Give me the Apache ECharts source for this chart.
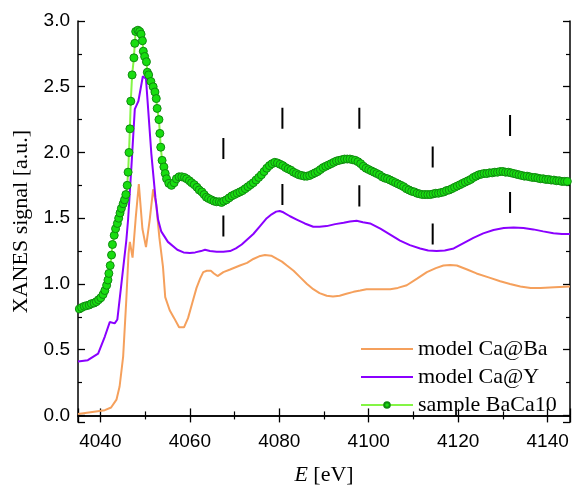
<!DOCTYPE html>
<html>
<head>
<meta charset="utf-8">
<script src="https://cdn.jsdelivr.net/npm/echarts@6/dist/echarts.min.js"></script>
<style>
html,body{margin:0;padding:0;background:#fff;}
#chart{width:573px;height:486px;}
</style>
</head>
<body>
<div id="chart"></div>
<script>
// ---- data ----
var caBaE = [4035,4037,4039,4041,4042.4,4043.6,4044.3,4045.1,4045.8,4046.3,4046.6,4047.2,4047.9,4048.6,4049.4,4050.2,4051.0,4051.8,4052.5,4053.2,4054.0,4054.5,4055.5,4056.5,4057.6,4058.7,4059.6,4060.5,4061.5,4062.3,4063.0,4063.8,4064.7,4065.4,4066.2,4067.5,4069.0,4071.2,4072.8,4074.2,4075.5,4076.8,4078.2,4079.5,4080.6,4081.7,4083.2,4084.7,4086.2,4087.6,4089.0,4090.6,4092.0,4093.5,4095.0,4096.6,4098.1,4099.5,4101.5,4103.0,4104.8,4106.5,4108.5,4110.8,4113.0,4115.0,4116.7,4118.2,4119.7,4122.0,4124.1,4126.8,4129.4,4131.6,4133.9,4136.2,4138.4,4141.5,4145];
var caBaSignal = [0.01,0.02,0.03,0.04,0.06,0.12,0.22,0.45,0.88,1.23,1.32,1.20,1.50,1.76,1.42,1.28,1.48,1.72,1.60,1.35,1.13,0.90,0.80,0.74,0.67,0.67,0.74,0.85,0.97,1.04,1.09,1.10,1.10,1.08,1.06,1.09,1.11,1.14,1.16,1.19,1.21,1.22,1.215,1.19,1.17,1.14,1.10,1.05,1.00,0.96,0.93,0.91,0.905,0.91,0.925,0.94,0.95,0.96,0.96,0.96,0.96,0.97,0.99,1.04,1.09,1.12,1.14,1.145,1.14,1.11,1.08,1.05,1.02,1.00,0.98,0.97,0.97,0.975,0.98];

var caYE = [4035,4037.2,4039.5,4041.0,4042.1,4043.2,4043.8,4044.7,4045.8,4046.2,4046.9,4047.7,4048.5,4049.5,4050.2,4051.4,4052.3,4052.9,4053.6,4055.1,4057.2,4058.6,4060.0,4061.2,4062.5,4063.4,4064.5,4066.0,4067.5,4069.0,4070.3,4071.6,4072.9,4074.2,4075.7,4077.2,4078.3,4079.3,4080.1,4080.9,4082.4,4083.9,4085.7,4087.6,4089.0,4090.6,4092.5,4094.4,4095.8,4097.3,4098.7,4100.3,4102.6,4104.8,4107.0,4109.2,4111.5,4113.3,4115.2,4117.0,4119.0,4121.2,4123.4,4125.6,4127.9,4130.2,4132.4,4134.6,4136.8,4139.0,4141.3,4143.2,4145];
var caYSignal = [0.41,0.42,0.47,0.60,0.71,0.70,0.73,1.00,1.33,1.49,1.87,2.33,2.39,2.58,2.56,1.99,1.66,1.49,1.40,1.32,1.26,1.24,1.235,1.24,1.25,1.26,1.25,1.245,1.245,1.25,1.27,1.30,1.34,1.38,1.44,1.50,1.53,1.55,1.555,1.545,1.515,1.49,1.46,1.435,1.435,1.44,1.455,1.465,1.475,1.48,1.47,1.46,1.42,1.375,1.33,1.295,1.27,1.255,1.25,1.255,1.27,1.31,1.35,1.385,1.41,1.425,1.43,1.425,1.415,1.40,1.385,1.38,1.38];

var sampleE = [4035.3,4035.8,4036.4,4036.9,4037.5,4038.0,4038.6,4039.1,4039.6,4040.1,4040.6,4041.0,4041.4,4041.7,4041.9,4042.2,4042.5,4042.7,4043.1,4043.4,4043.8,4044.1,4044.4,4044.7,4045.1,4045.4,4045.7,4046.0,4046.2,4046.4,4046.6,4046.8,4047.1,4047.5,4047.7,4047.9,4048.4,4048.8,4049.1,4049.4,4049.6,4049.9,4050.3,4050.5,4050.8,4051.3,4051.8,4052.2,4052.5,4052.7,4053.1,4053.3,4053.5,4053.8,4054.2,4054.5,4054.8,4055.3,4055.9,4056.5,4057.0,4057.6,4058.2,4058.8,4059.3,4059.9,4060.4,4061.0,4061.6,4062.1,4062.7,4063.2,4063.7,4064.2,4064.8,4065.4,4066.0,4066.6,4067.1,4067.6,4068.2,4068.8,4069.4,4070.0,4070.6,4071.2,4071.8,4072.4,4073.0,4073.6,4074.2,4074.8,4075.4,4076.0,4076.6,4077.2,4077.8,4078.4,4079.0,4079.6,4080.2,4080.8,4081.4,4082.0,4082.6,4083.2,4083.8,4084.4,4085.0,4085.6,4086.2,4086.8,4087.4,4088.0,4088.6,4089.2,4089.8,4090.4,4091.0,4091.6,4092.2,4092.8,4093.4,4094.0,4094.6,4095.2,4095.8,4096.4,4097.0,4097.6,4098.2,4098.8,4099.4,4100.0,4100.6,4101.2,4101.8,4102.4,4103.0,4103.6,4104.2,4104.8,4105.4,4106.0,4106.6,4107.2,4107.8,4108.4,4109.0,4109.6,4110.2,4110.8,4111.4,4112.0,4112.6,4113.2,4113.8,4114.4,4115.0,4115.6,4116.2,4116.8,4117.4,4118.0,4118.6,4119.2,4119.8,4120.4,4121.0,4121.6,4122.2,4122.8,4123.4,4124.0,4124.6,4125.2,4125.8,4126.4,4127.0,4127.6,4128.2,4128.8,4129.4,4130.0,4130.6,4131.2,4131.8,4132.4,4133.0,4133.6,4134.2,4134.8,4135.4,4136.0,4136.6,4137.2,4137.8,4138.4,4139.0,4139.6,4140.2,4140.8,4141.4,4142.0,4142.6,4143.2,4143.8,4144.4];
var sampleSignal = [0.81,0.82,0.83,0.835,0.84,0.85,0.855,0.865,0.88,0.895,0.92,0.95,0.99,1.03,1.08,1.14,1.22,1.30,1.37,1.42,1.46,1.50,1.54,1.575,1.61,1.64,1.68,1.75,1.85,2.00,2.18,2.39,2.59,2.72,2.83,2.92,2.93,2.92,2.90,2.85,2.77,2.73,2.69,2.61,2.59,2.54,2.50,2.46,2.41,2.335,2.25,2.145,2.04,1.94,1.89,1.84,1.80,1.765,1.75,1.77,1.80,1.815,1.815,1.81,1.80,1.785,1.77,1.755,1.735,1.715,1.70,1.68,1.66,1.65,1.64,1.63,1.625,1.625,1.62,1.63,1.64,1.655,1.67,1.68,1.69,1.70,1.71,1.725,1.74,1.755,1.77,1.79,1.81,1.83,1.855,1.88,1.90,1.915,1.925,1.92,1.91,1.90,1.885,1.875,1.865,1.85,1.84,1.83,1.825,1.82,1.82,1.825,1.835,1.845,1.855,1.87,1.885,1.895,1.905,1.915,1.925,1.935,1.94,1.945,1.95,1.95,1.95,1.945,1.94,1.93,1.915,1.895,1.88,1.87,1.86,1.85,1.84,1.83,1.815,1.805,1.80,1.79,1.78,1.77,1.76,1.75,1.74,1.725,1.715,1.705,1.70,1.69,1.685,1.68,1.68,1.68,1.68,1.685,1.69,1.69,1.695,1.70,1.71,1.715,1.725,1.735,1.745,1.755,1.765,1.775,1.785,1.795,1.81,1.82,1.83,1.835,1.84,1.84,1.845,1.845,1.85,1.85,1.855,1.855,1.85,1.85,1.845,1.84,1.835,1.83,1.825,1.82,1.82,1.815,1.81,1.81,1.805,1.80,1.80,1.795,1.795,1.79,1.79,1.785,1.785,1.78,1.78,1.78];

// feature markers (vertical bars)
var markE = [4067.5, 4080.7, 4097.9, 4114.3, 4131.6];
var markUpperBase = [1.95, 2.18, 2.18, 1.885, 2.125];
var markLowerBase = [1.36, 1.60, 1.59, 1.30, 1.54];
var markLength = 0.16;

var seriesNames = ['model Ca@Ba', 'model Ca@Y', 'sample BaCa10'];
var xMin = 4035, xMax = 4145, yMin = -0.05, yMax = 3.0;

function zip(a, b) { return a.map(function (v, i) { return [v, b[i]]; }); }

var markData = [];
markE.forEach(function (e, i) {
  markData.push([e, markUpperBase[i]], [e, markUpperBase[i] + markLength], [e, '-']);
  markData.push([e, markLowerBase[i]], [e, markLowerBase[i] + markLength], [e, '-']);
});

var chart = echarts.init(document.getElementById('chart'), null, {renderer: 'canvas'});
var axisCommon = {
  axisLine: {show: true, lineStyle: {color: '#000', width: 1.5}},
  axisTick: {show: true, inside: true, length: 7, lineStyle: {color: '#000', width: 1.3}},
  minorTick: {show: true, splitNumber: 2, length: 4, lineStyle: {color: '#000', width: 1.2}},
  splitLine: {show: false}
};
var labelFont = {fontFamily: 'Liberation Sans', fontSize: 19, color: '#000'};

var option = {
  animation: false,
  backgroundColor: '#fff',
  grid: {left: 78, right: 3, top: 21, bottom: 64, containLabel: false, outerBoundsMode: 'none'},
  xAxis: [
    Object.assign({type: 'value', min: xMin, max: xMax, splitNumber: 5, position: 'bottom',
      name: '{i|E} [eV]', nameLocation: 'middle', nameGap: 42,
      nameTextStyle: {fontFamily: 'Liberation Serif', fontSize: 22, color: '#000',
        rich: {i: {fontFamily: 'Liberation Serif', fontSize: 22, fontStyle: 'italic', color: '#000'}}},
      axisLabel: Object.assign({margin: 10, showMinLabel: false, showMaxLabel: false,
        formatter: function (v) { return v.toFixed(0); }}, labelFont)
    }, axisCommon),
    Object.assign({type: 'value', min: xMin, max: xMax, splitNumber: 5, position: 'top',
      axisLabel: {show: false}}, axisCommon)
  ],
  yAxis: [
    Object.assign({type: 'value', min: yMin, max: yMax, splitNumber: 6, position: 'left',
      name: 'XANES signal [a.u.]', nameLocation: 'middle', nameGap: 42,
      nameTextStyle: {fontFamily: 'Liberation Serif', fontSize: 22, color: '#000'},
      axisLabel: Object.assign({margin: 8, showMinLabel: false,
        formatter: function (v) { return v.toFixed(1); }}, labelFont)
    }, axisCommon),
    Object.assign({type: 'value', min: yMin, max: yMax, splitNumber: 6, position: 'right',
      axisLabel: {show: false}}, axisCommon)
  ],
  legend: {
    data: [
      {name: seriesNames[0], itemStyle: {opacity: 0}},
      {name: seriesNames[1], itemStyle: {opacity: 0}},
      {name: seriesNames[2]}
    ],
    orient: 'vertical',
    left: 355, top: 333,
    itemWidth: 52, itemHeight: 7, itemGap: 6,
    textStyle: {fontFamily: 'Liberation Serif', fontSize: 22, color: '#000', lineHeight: 22},
    inactiveColor: '#ccc'
  },
  series: [
    {name: seriesNames[0], type: 'line', data: zip(caBaE, caBaSignal), symbol: 'none',
      lineStyle: {color: '#f5a05c', width: 2}, itemStyle: {color: '#f5a05c'}, z: 2},
    {name: seriesNames[1], type: 'line', data: zip(caYE, caYSignal), symbol: 'none',
      lineStyle: {color: '#8a00ff', width: 2}, itemStyle: {color: '#8a00ff'}, z: 3},
    {name: seriesNames[2], type: 'line', data: zip(sampleE, sampleSignal), symbol: 'circle', symbolSize: 8,
      showAllSymbol: true,
      lineStyle: {color: '#84f545', width: 2},
      itemStyle: {color: '#18dd10', borderColor: '#108a10', borderWidth: 1}, z: 4},
    {name: 'markers', type: 'line', data: markData, symbol: 'none', silent: true, connectNulls: false,
      lineStyle: {color: '#000', width: 2}, z: 5}
  ]
};
chart.setOption(option);
</script>
</body>
</html>
